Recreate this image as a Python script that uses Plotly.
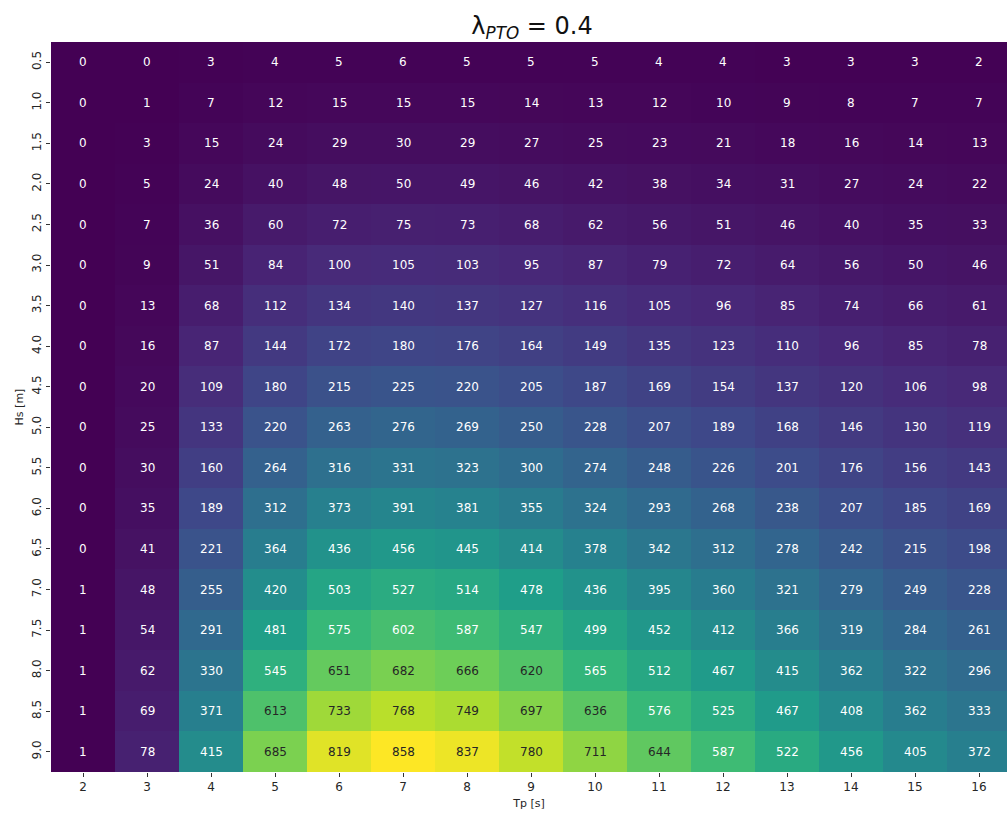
import plotly.graph_objects as go

# Wave period (columns) and significant wave height (rows)
tp_values = [2, 3, 4, 5, 6, 7, 8, 9, 10, 11, 12, 13, 14, 15, 16]
hs_values = [0.5, 1.0, 1.5, 2.0, 2.5, 3.0, 3.5, 4.0, 4.5,
             5.0, 5.5, 6.0, 6.5, 7.0, 7.5, 8.0, 8.5, 9.0]

# Power matrix, one list per Hs row
power = [
    [0, 0, 3, 4, 5, 6, 5, 5, 5, 4, 4, 3, 3, 3, 2],
    [0, 1, 7, 12, 15, 15, 15, 14, 13, 12, 10, 9, 8, 7, 7],
    [0, 3, 15, 24, 29, 30, 29, 27, 25, 23, 21, 18, 16, 14, 13],
    [0, 5, 24, 40, 48, 50, 49, 46, 42, 38, 34, 31, 27, 24, 22],
    [0, 7, 36, 60, 72, 75, 73, 68, 62, 56, 51, 46, 40, 35, 33],
    [0, 9, 51, 84, 100, 105, 103, 95, 87, 79, 72, 64, 56, 50, 46],
    [0, 13, 68, 112, 134, 140, 137, 127, 116, 105, 96, 85, 74, 66, 61],
    [0, 16, 87, 144, 172, 180, 176, 164, 149, 135, 123, 110, 96, 85, 78],
    [0, 20, 109, 180, 215, 225, 220, 205, 187, 169, 154, 137, 120, 106, 98],
    [0, 25, 133, 220, 263, 276, 269, 250, 228, 207, 189, 168, 146, 130, 119],
    [0, 30, 160, 264, 316, 331, 323, 300, 274, 248, 226, 201, 176, 156, 143],
    [0, 35, 189, 312, 373, 391, 381, 355, 324, 293, 268, 238, 207, 185, 169],
    [0, 41, 221, 364, 436, 456, 445, 414, 378, 342, 312, 278, 242, 215, 198],
    [1, 48, 255, 420, 503, 527, 514, 478, 436, 395, 360, 321, 279, 249, 228],
    [1, 54, 291, 481, 575, 602, 587, 547, 499, 452, 412, 366, 319, 284, 261],
    [1, 62, 330, 545, 651, 682, 666, 620, 565, 512, 467, 415, 362, 322, 296],
    [1, 69, 371, 613, 733, 768, 749, 697, 636, 576, 525, 467, 408, 362, 333],
    [1, 78, 415, 685, 819, 858, 837, 780, 711, 644, 587, 522, 456, 405, 372],
]

zmin = 0
zmax = max(max(r) for r in power)
# fraction of the colour range above which the cell is bright enough for dark text
dark_text_from = 0.708

fig = go.Figure()
fig.add_trace(go.Heatmap(
    x=tp_values, y=hs_values, z=power,
    colorscale="Viridis", zmin=zmin, zmax=zmax,
    showscale=False, xgap=0, ygap=0, hoverongaps=False,
))

# Cell labels, dark text on bright cells
annotations = []
for i, hs in enumerate(hs_values):
    for j, tp in enumerate(tp_values):
        v = power[i][j]
        frac = (v - zmin) / (zmax - zmin)
        annotations.append(dict(
            x=tp, y=hs, text=str(v), showarrow=False,
            font=dict(family="DejaVu Sans", size=12,
                      color="#262626" if frac > dark_text_from else "white"),
        ))

fig.update_layout(
    width=1007, height=821,
    margin=dict(l=51, r=0, t=42, b=49),
    paper_bgcolor="white", plot_bgcolor="white",
    annotations=annotations,
    title=dict(
        text="λ<sub><i>PTO</i></sub> = 0.4",
        x=(532 - 51) / 956, xref="paper", xanchor="center",
        y=0.969, yref="container", yanchor="middle",
        font=dict(family="DejaVu Sans", size=24, color="#111111"),
    ),
    font=dict(family="DejaVu Sans", size=12, color="#262626"),
)

fig.update_xaxes(
    range=[1.5, 1.5 + 956 / 64], tickvals=tp_values,
    ticktext=[str(t) for t in tp_values],
    ticks="outside", ticklen=4, tickcolor="#333333", tickwidth=1,
    showgrid=False, zeroline=False, showline=False,
    title=dict(text="Tp [s]", font=dict(size=11), standoff=5),
    tickfont=dict(size=12),
)
fig.update_yaxes(
    range=[9.25, 0.25], tickvals=hs_values,
    ticktext=[f"{h:.1f}" for h in hs_values],
    ticks="outside", ticklen=4, tickcolor="#333333", tickwidth=1,
    tickangle=-90,
    showgrid=False, zeroline=False, showline=False,
    title=dict(text="Hs [m]", font=dict(size=11), standoff=4),
    tickfont=dict(size=12),
)

fig.write_html("out.html")
